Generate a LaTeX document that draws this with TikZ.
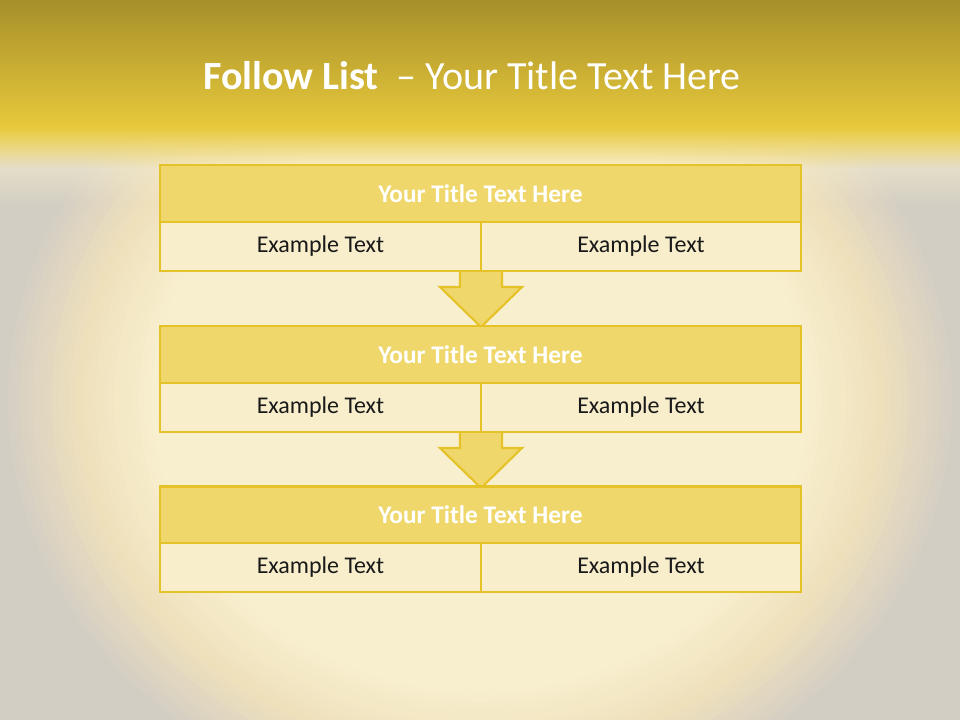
\documentclass[tikz,border=0pt]{standalone}
\usepackage{fontspec}
\setmainfont{Carlito}
\usetikzlibrary{calc,fadings}
\definecolor{bandtop}{HTML}{A68F2A}
\definecolor{bandbot}{HTML}{E8C93B}
\definecolor{cream}{HTML}{F8EFCE}
\definecolor{warm}{HTML}{EFE0BC}
\definecolor{edgegray}{HTML}{D3CEC4}
\definecolor{gold}{HTML}{E6C229}
\definecolor{titlefill}{HTML}{EFD76C}
\definecolor{cellfill}{HTML}{F8EECC}
\tikzfading[name=fadedown, top color=transparent!0, bottom color=transparent!100]
\tikzset{
  titlerow/.style={draw=gold, line width=2.2pt, fill=titlefill, minimum width=480.75pt, minimum height=42.75pt, inner sep=0pt, font=\fontsize{19}{23}\selectfont\bfseries, text=white},
  cell/.style={draw=gold, line width=2.2pt, fill=cellfill, minimum height=36.75pt, inner sep=0pt, font=\fontsize{18}{22}\selectfont, text=black!90},
  leftcell/.style={cell, minimum width=240.75pt},
  rightcell/.style={cell, minimum width=240pt},
  downarrow/.style={draw=gold, line width=1.6pt, fill=titlefill, line join=miter}
}
\begin{document}
\begin{tikzpicture}[x=0.75pt, y=-0.75pt]
\useasboundingbox (0,0) rectangle (960,720);
% background
\begin{scope}
\clip (0,0) rectangle (960,720);
\fill[edgegray] (0,0) rectangle (960,720);
\foreach \k in {0,...,12}{
  \pgfmathsetmacro\r{0.92-0.012*\k}
  \pgfmathsetmacro\p{\k/12*100}
  \fill[warm!\p!edgegray] (480,400) ellipse [x radius=\r*390pt, y radius=\r*345pt];
}
\foreach \k in {13,...,24}{
  \pgfmathsetmacro\r{0.92-0.012*\k}
  \pgfmathsetmacro\p{(\k-12)/12*100}
  \fill[cream!\p!warm] (480,400) ellipse [x radius=\r*390pt, y radius=\r*345pt];
}
\end{scope}
\fill[cream, path fading=fadedown] (0,127) rectangle (960,205);
\shade[top color=bandtop, bottom color=bandbot] (0,0) rectangle (960,128);
\fill[bandbot, path fading=fadedown] (0,127) rectangle (960,168);
% title
\node[text=white, font=\fontsize{30}{36}\selectfont] (title) at (472,76) {\textbf{Follow List}\ \ – Your Title Text Here};
% named anchors for arrows
\coordinate (g1b) at (481,271);
\coordinate (g2t) at (481,327);
\coordinate (g2b) at (481,432);
\coordinate (g3t) at (481,488);
% arrows (behind boxes)
\draw[downarrow] ($(g1b)+(-21,-3)$) -- ($(g1b)+(21,-3)$) -- ($(g1b)+(21,16)$) -- ($(g1b)+(41,16)$) -- (g2t) -- ($(g1b)+(-41,16)$) -- ($(g1b)+(-21,16)$) -- cycle;
\draw[downarrow] ($(g2b)+(-21,-3)$) -- ($(g2b)+(21,-3)$) -- ($(g2b)+(21,16)$) -- ($(g2b)+(41,16)$) -- (g3t) -- ($(g2b)+(-41,16)$) -- ($(g2b)+(-21,16)$) -- cycle;
% group 1
\node[titlerow] (t1) at (480.5,193.5) {Your Title Text Here};
\node[leftcell] (a1) at (320.5,246.5) {Example Text};
\node[rightcell] (b1) at (641,246.5) {Example Text};
% group 2
\node[titlerow] (t2) at (480.5,354.5) {Your Title Text Here};
\node[leftcell] (a2) at (320.5,407.5) {Example Text};
\node[rightcell] (b2) at (641,407.5) {Example Text};
% group 3
\node[titlerow] (t3) at (480.5,515) {Your Title Text Here};
\node[leftcell] (a3) at (320.5,567.5) {Example Text};
\node[rightcell] (b3) at (641,567.5) {Example Text};
\end{tikzpicture}
\end{document}
